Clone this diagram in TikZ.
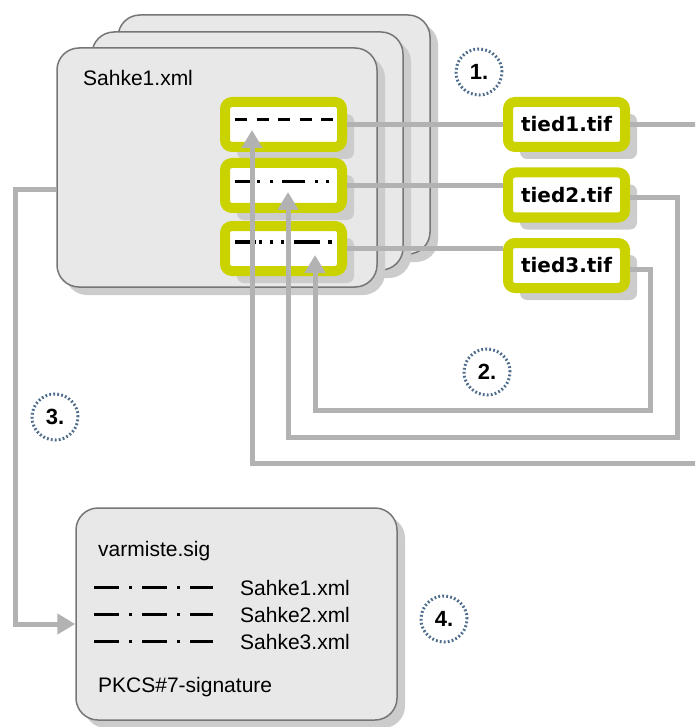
\documentclass[tikz,border=0pt]{standalone}
\usepackage{fontspec}
\setmainfont{Liberation Sans}
\newfontfamily\tiedfont{DejaVu Sans}
\usepackage{tikz}
\usetikzlibrary{shadows}
\usetikzlibrary{arrows.meta}
\usetikzlibrary{positioning}
\definecolor{cardgray}{RGB}{232,232,232}
\definecolor{edgegray}{RGB}{118,118,118}
\definecolor{shadegray}{RGB}{204,204,204}
\definecolor{linkgray}{RGB}{178,178,178}
\definecolor{lime}{RGB}{202,211,0}
\definecolor{numblue}{RGB}{78,108,140}
\tikzset{card/.style={draw=edgegray, line width=1.5pt, fill=cardgray, rounded corners=22pt, inner sep=0pt, drop shadow={shadow xshift=8pt, shadow yshift=-8pt, fill=shadegray, opacity=1}}}
\tikzset{limebox/.style={draw=lime, line width=10pt, fill=white, rounded corners=7pt, minimum width=117pt, minimum height=45pt, inner sep=0pt, drop shadow={shadow xshift=12pt, shadow yshift=-12pt, fill=shadegray, opacity=1}}}
\tikzset{link/.style={draw=linkgray, line width=5pt}}
\tikzset{linkarrow/.style={link, -{Triangle[width=20pt,length=18pt]}}}
\tikzset{numcircle/.style={circle, draw=numblue, line width=3pt, dash pattern=on 1.8pt off 2.2pt, minimum size=46pt, inner sep=0pt, font=\fontsize{22}{24}\selectfont\bfseries}}
\tikzset{txt/.style={anchor=base west, inner sep=0pt, font=\fontsize{21}{24}\selectfont}}
\tikzset{tiedtxt/.style={font=\tiedfont\fontsize{20}{22}\selectfont\bfseries}}
\tikzset{marker/.style={line width=#1, black}, marker/.default={3pt}}

\begin{document}
\begin{tikzpicture}[x=1pt, y=-1pt]
\useasboundingbox (0,0) rectangle (695,727);
\clip (0,0) rectangle (695,727);
% stacked xml cards
\node[card, minimum width=312pt, minimum height=239pt] (back) at (274,134.5) {};
\node[card, minimum width=311pt, minimum height=238pt] (middle) at (247.5,151) {};
\node[card, minimum width=320pt, minimum height=239pt] (front) at (217,167.5) {};
\node[txt] (title) at (83,86) {Sahke1.xml};
% reference boxes
\node[limebox] (b1) at (283.5,124.5) {};
\node[limebox] (b2) at (283.5,185.5) {};
\node[limebox] (b3) at (283.5,248.5) {};
\draw[marker, dash pattern=on 12pt off 9.5pt] ([xshift=-48.5pt,yshift=4.5pt]b1.center) -- ([xshift=50pt,yshift=4.5pt]b1.center);
\draw[marker, dash pattern=on 17pt off 5pt on 3pt off 10pt on 3pt off 9pt on 23pt off 10pt on 3pt off 8pt on 3pt off 20pt] ([xshift=-48.5pt,yshift=3.5pt]b2.center) -- ([xshift=46pt,yshift=3.5pt]b2.center);
\draw[marker=4pt, dash pattern=on 21pt off 3pt on 3pt off 8pt on 3pt off 8pt on 3pt off 10pt on 26pt off 8pt on 4pt off 20pt] ([xshift=-48.5pt,yshift=6.5pt]b3.center) -- ([xshift=48.5pt,yshift=6.5pt]b3.center);
% image files
\node[limebox, tiedtxt] (t1) at (566.5,124.5) {tied1.tif};
\node[limebox, tiedtxt] (t2) at (566.5,195) {tied2.tif};
\node[limebox, tiedtxt] (t3) at (566.5,265.5) {tied3.tif};
% links
\draw[link] (b1.east) -- (b1.east -| t1.west);
\draw[link] (b2.east) -- (b2.east -| t2.west);
\draw[link] (b3.east) -- (b3.east -| t3.west);
\draw[linkarrow] (t1.east) -- (720,124.5) -- (720,463) -| ([xshift=-31.5pt,yshift=-5.5pt]b1.center);
\draw[linkarrow] ([yshift=-3pt]t2.east) -- (677,198) -- (677,437) -| ([xshift=4.5pt,yshift=-6.5pt]b2.center);
\draw[linkarrow] ([yshift=-4pt]t3.east) -- (650,269.5) -- (650,410) -| ([xshift=31.5pt,yshift=-6.5pt]b3.center);
% signature file
\node[card, minimum width=321pt, minimum height=212pt] (sig) at (236.5,614) {};
\draw[linkarrow] ([yshift=-22.5pt]front.west) -- (15,190) |- ([yshift=-10pt]sig.west);
\node[txt] (signame) at (98,556) {varmiste.sig};
\foreach \i/\yy in {1/587,2/614,3/641}{
  \draw[marker, dash pattern=on 25pt off 10pt on 3pt off 10pt on 25pt off 10pt on 3pt off 10pt on 26pt off 40pt] (94,\yy) -- (213,\yy);
  \node[txt] (file\i) at (240,\yy+8) {Sahke\i.xml};
}
\node[txt] (pkcs) at (98,692) {PKCS\#7-signature};
% step numbers
\node[numcircle] (n1) at (479,72) {1.};
\node[numcircle] (n2) at (487,372) {2.};
\node[numcircle] (n3) at (55,417) {3.};
\node[numcircle] (n4) at (444,619) {4.};
\end{tikzpicture}
\end{document}
